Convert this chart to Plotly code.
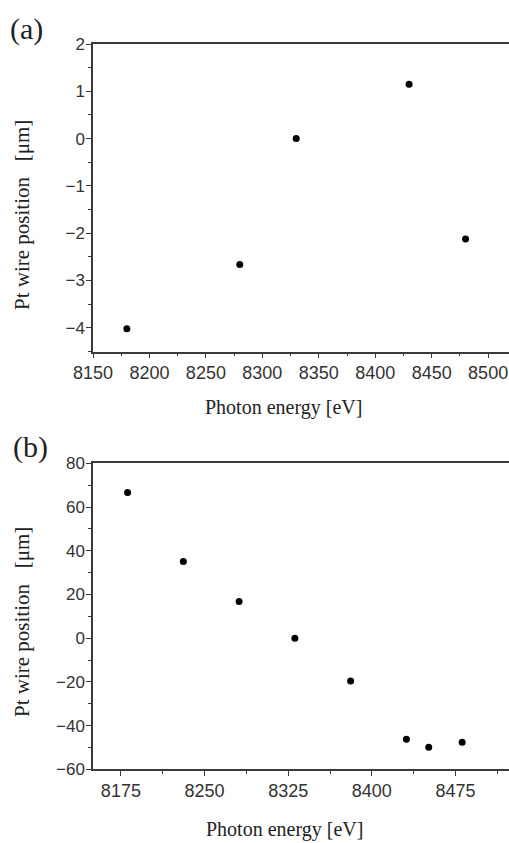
import plotly.graph_objects as go

# Panel (a)
energy_a = [8180, 8280, 8330, 8430, 8480]
pos_a = [-4.02, -2.66, 0.0, 1.15, -2.12]

# Panel (b)
energy_b = [8181, 8231, 8281, 8331, 8381, 8431, 8451, 8481]
pos_b = [66.6, 35.1, 16.8, 0.0, -19.6, -46.3, -49.9, -47.6]

W, H = 509, 843
fig = go.Figure()
fig.add_trace(go.Scatter(x=energy_a, y=pos_a, mode="markers",
                         marker=dict(color="black", size=7), xaxis="x", yaxis="y"))
fig.add_trace(go.Scatter(x=energy_b, y=pos_b, mode="markers",
                         marker=dict(color="black", size=7), xaxis="x2", yaxis="y2"))

axcol = "#3a3a3a"
xtickfont = dict(family="Liberation Sans, Arial, sans-serif", size=18, color="#333333")
ytickfont = dict(family="Liberation Sans, Arial, sans-serif", size=17, color="#333333")
common = dict(showline=True, linecolor=axcol, linewidth=1.5, ticks="outside",
              ticklen=5, tickwidth=1.2, tickcolor=axcol, showgrid=False,
              zeroline=False, automargin=False)

def dom(top_px, bot_px):
    return [1 - bot_px / H, 1 - top_px / H]

fig.update_layout(
    width=W, height=H, showlegend=False,
    paper_bgcolor="white", plot_bgcolor="white",
    margin=dict(l=93, r=0, t=0, b=0, autoexpand=False),
    xaxis=dict(range=[8150, 8518.5], dtick=50, tick0=8150, anchor="y", mirror=True,
               ticklabelstandoff=-1, tickfont=xtickfont,
               minor=dict(ticks="outside", ticklen=3, dtick=25, tickcolor=axcol), **common),
    yaxis=dict(range=[-4.5, 2], dtick=1, tick0=0, domain=dom(44, 351.5), anchor="x",
               ticklabelstandoff=-2, tickfont=ytickfont,
               minor=dict(ticks="outside", ticklen=3, dtick=0.5, tickcolor=axcol), **common),
    xaxis2=dict(range=[8150, 8523], dtick=75, tick0=8175, anchor="y2", mirror=True,
                ticklabelstandoff=-1, tickfont=xtickfont,
                minor=dict(ticks="outside", ticklen=3, dtick=37.5, tick0=8175, tickcolor=axcol), **common),
    yaxis2=dict(range=[-60, 80], dtick=20, tick0=0, domain=dom(463.3, 769.3), anchor="x2",
                ticklabelstandoff=-2, tickfont=ytickfont,
                minor=dict(ticks="outside", ticklen=3, dtick=10, tickcolor=axcol), **common),
)

serif = "Liberation Serif, Times New Roman, serif"
L = 93
PW = W - L
def px_x(p):
    return (p - L) / PW
def px_y(p):
    return 1 - p / H

ann = []
ann.append(dict(text="(a)", x=px_x(26), y=px_y(29), font=dict(family=serif, size=30, color="#222")))
ann.append(dict(text="(b)", x=px_x(30), y=px_y(447), font=dict(family=serif, size=30, color="#222")))
ylab = "Pt wire position\u00a0\u00a0\u00a0[\u03bcm]"
ann.append(dict(text=ylab, x=px_x(22), y=px_y(215), textangle=-90, font=dict(family=serif, size=21, color="#222")))
ann.append(dict(text=ylab, x=px_x(22), y=px_y(622), textangle=-90, font=dict(family=serif, size=21, color="#222")))
ann.append(dict(text="Photon energy [eV]", x=px_x(283), y=px_y(407), font=dict(family=serif, size=20, color="#222")))
ann.append(dict(text="Photon energy [eV]", x=px_x(284), y=px_y(829), font=dict(family=serif, size=20, color="#222")))
for a in ann:
    a.update(xref="paper", yref="paper", showarrow=False, xanchor="center", yanchor="middle")
fig.update_layout(annotations=ann)

fig.write_html("out.html", config={"displayModeBar": False},
               post_script="document.body.style.margin='0';document.body.style.overflow='hidden';")
